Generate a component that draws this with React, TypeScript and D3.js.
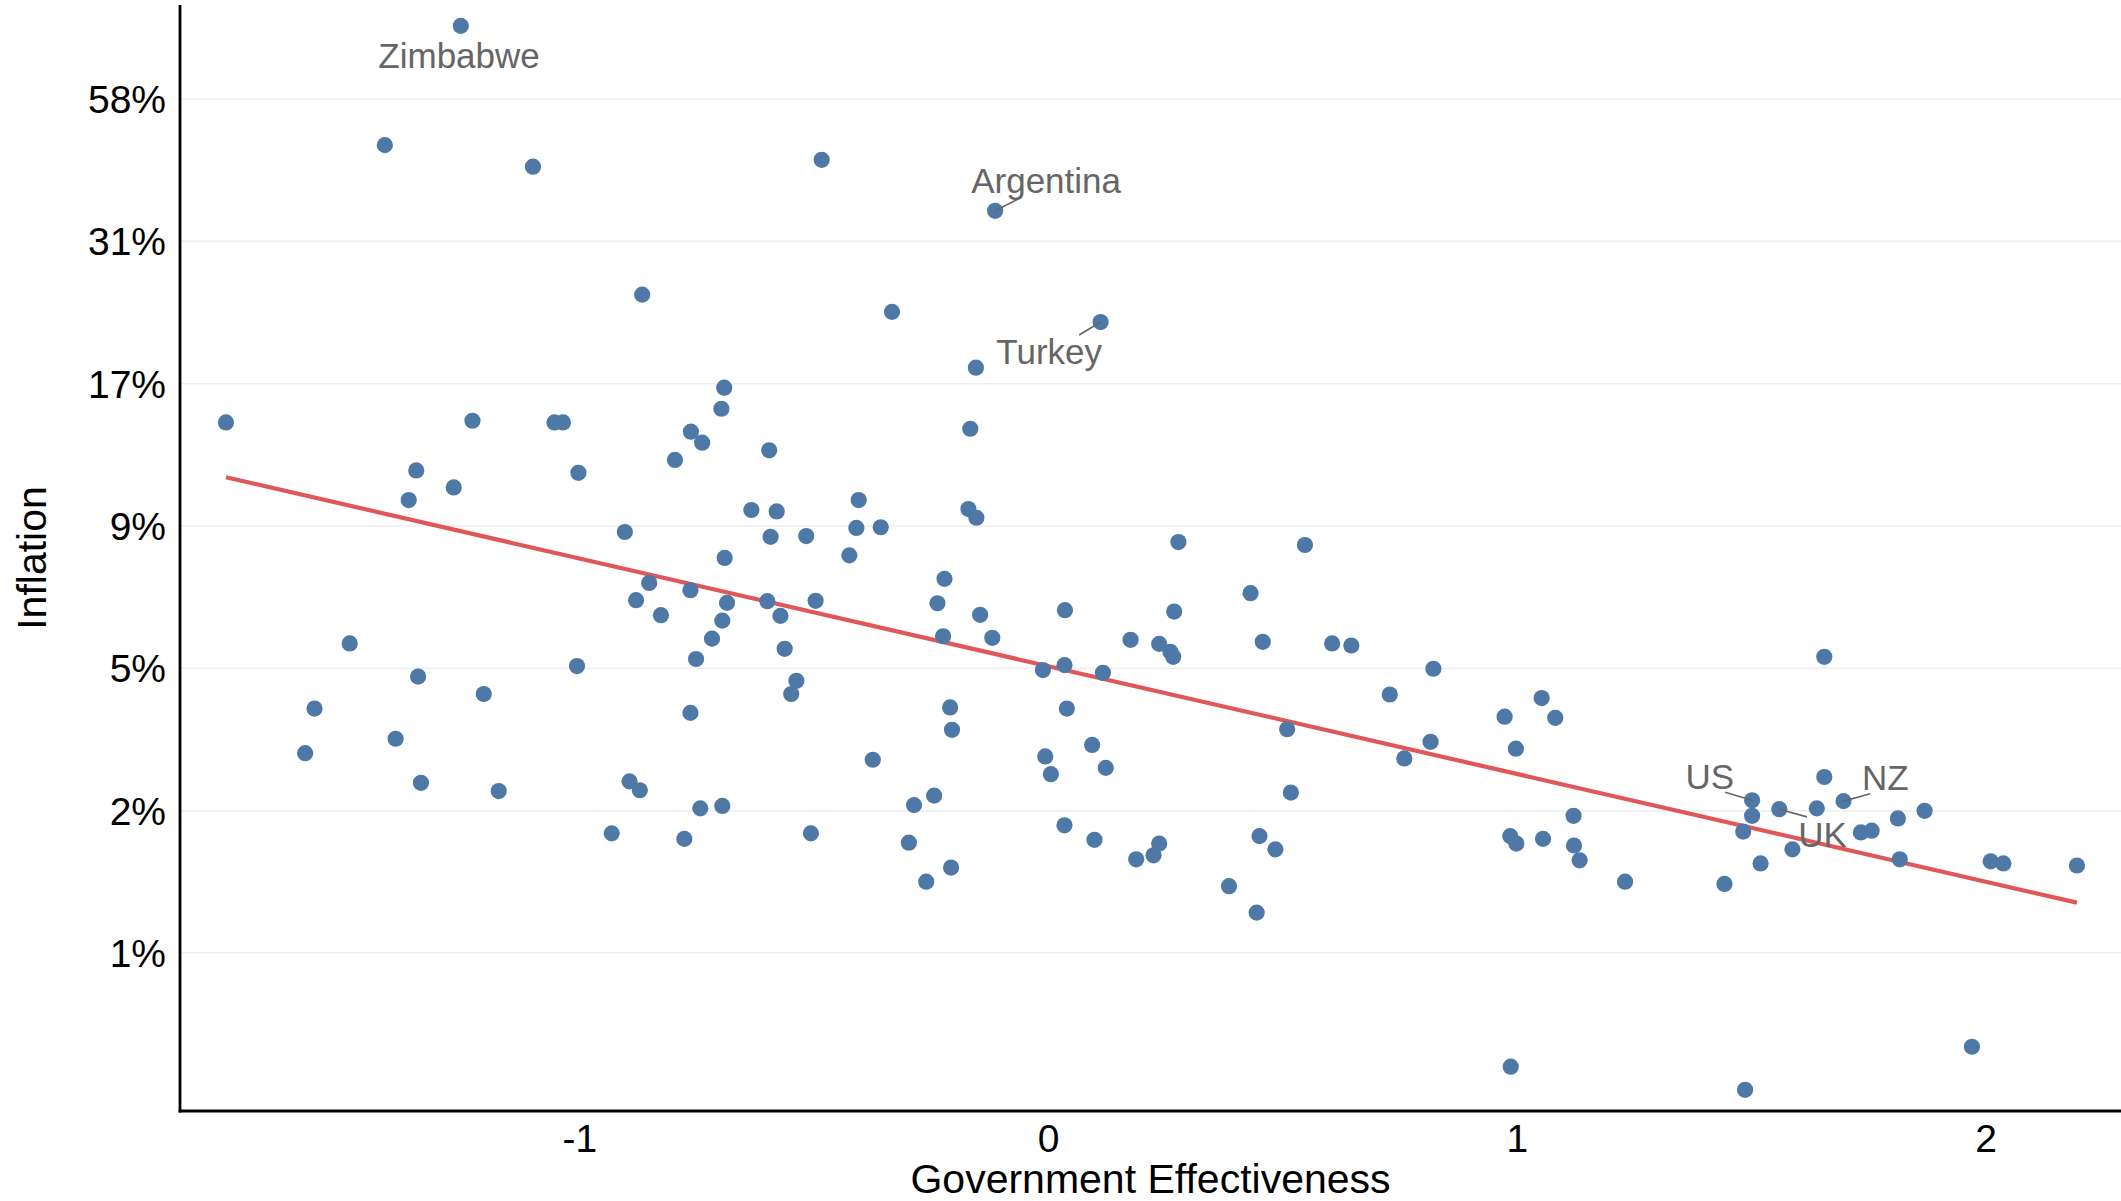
import React from "react";
import * as d3 from "d3";

// ---------- data ----------
const govEffectiveness = [
  -1.254, -1.416, -1.100, -0.484, -0.114, -0.867, -0.334, 0.111, -0.155, -0.692,
  -0.698, -1.755, -1.229, -1.054, -1.036, -0.763, -0.739, -0.596, -0.167, -0.797,
  -1.349, -1.003, -1.269, -1.365, -0.634, -0.580, -0.405, -0.171, -0.154, -0.904,
  -0.593, -0.517, -0.410, -0.358, 0.277, 0.547, -0.425, -0.691, -0.222, -0.852,
  0.431, -0.764, -0.880, -0.686, -0.600, -0.237, -0.497, 0.035, 0.268, -0.827,
  -0.572, -0.146, -0.696, -0.225, -0.120, -0.718, 0.175, 0.236, 0.260, 0.266,
  0.457, 0.605, 0.646, -1.491, -0.563, 1.655, -0.752, -1.006, -0.012, 0.034,
  0.116, 0.821, -1.345, -0.538, -0.549, -1.205, 0.728, 1.052, -1.566, -0.210,
  0.039, -0.764, 0.973, 1.081, -0.206, 0.509, -1.393, 0.815, 0.093, 0.997,
  -1.586, -0.375, -0.007, 0.759, 0.122, 0.005, 1.655, -0.894, -1.339, -0.872,
  -1.173, 0.517, -0.244, 1.501, 1.696, -0.287, -0.743, -0.696, 1.559, 1.639,
  1.869, 1.120, 1.501, 1.812, 0.034, -0.932, -0.507, 1.482, 1.733, 1.756,
  0.098, -0.777, -0.298, 0.450, 0.985, 1.055, 0.236, 0.998, 1.121, 0.484,
  1.587, 0.224, 0.187, 1.133, 1.816, 2.010, 2.037, 2.194, 1.519, -0.208,
  -0.261, 1.230, 1.442, 0.385, 0.444, 1.970, 0.986, 1.486,
];

const inflation = [
  79.8, 48.1, 43.9, 45.2, 36.4, 25.5, 23.7, 22.7, 18.7, 17.18,
  15.71, 14.82, 14.93, 14.82, 14.82, 14.25, 13.6, 13.17, 14.43, 12.64,
  12.09, 11.97, 11.25, 10.66, 10.22, 10.16, 10.66, 10.26, 9.89, 9.31,
  9.12, 9.15, 9.47, 9.5, 8.92, 8.81, 8.43, 8.34, 7.63, 7.5,
  7.18, 7.27, 6.97, 6.89, 6.94, 6.88, 6.95, 6.68, 6.64, 6.54,
  6.52, 6.55, 6.39, 5.98, 5.94, 5.92, 5.89, 5.79, 5.6, 5.48,
  5.84, 5.8, 5.75, 5.8, 5.67, 5.48, 5.43, 5.27, 5.18, 5.29,
  5.12, 5.21, 5.04, 4.95, 4.68, 4.68, 4.67, 4.6, 4.4, 4.42,
  4.4, 4.32, 4.25, 4.23, 4.02, 4.03, 3.87, 3.82, 3.77, 3.71,
  3.64, 3.54, 3.59, 3.56, 3.42, 3.33, 3.29, 3.23, 3.21, 3.11,
  3.1, 3.08, 3.04, 2.98, 2.97, 2.92, 2.88, 2.91, 2.87, 2.88,
  2.85, 2.79, 2.79, 2.76, 2.68, 2.59, 2.59, 2.61, 2.6, 2.62,
  2.52, 2.53, 2.49, 2.56, 2.56, 2.53, 2.48, 2.48, 2.46, 2.42,
  2.42, 2.36, 2.32, 2.31, 2.32, 2.3, 2.28, 2.26, 2.28, 2.24,
  2.11, 2.11, 2.09, 2.07, 1.85, 1.047, 0.962, 0.872,
];

const labelNames = ["Zimbabwe", "Argentina", "Turkey", "US", "NZ", "UK"];
const labelIndex = [0, 4, 7, 103, 104, 108];

const xTickValues = [-1, 0, 1, 2];
const xTickLabels = ["-1", "0", "1", "2"];
const yTickValues = [1.56, 2.85, 5.22, 9.55, 17.47, 31.97, 58.5];
const yTickLabels = ["1%", "2%", "5%", "9%", "17%", "31%", "58%"];

const xDomain = [-1.853, 2.288];
const yDomain = [0.797, 87.2];

// ---------- layout / style ----------
const W = 2121;
const H = 1201;
const plot = { left: 180, right: 2121, top: 5, bottom: 1111 };
const FONT = "'Liberation Sans', Arial, Helvetica, sans-serif";
const POINT = "#4E79A7";
const LINE = "#E15759";
const LABEL = "#666666";

// label text offsets (px) and segment end offsets (px) relative to the point
const labelLayout = [
  { dx: -1.7, dy: 41.7, seg: null },
  { dx: 51, dy: -17.4, seg: [23.6, -12] },
  { dx: -51.4, dy: 42.3, seg: [-21.4, 13] },
  { dx: -42.3, dy: -11.7, seg: [-27, -8] },
  { dx: 41.7, dy: -11, seg: [26.7, -7.3] },
  { dx: 43.3, dy: 37.7, seg: [27.7, 7.7] },
];

export default function App() {
  const x = d3.scaleLinear().domain(xDomain).range([plot.left, plot.right]);
  const y = d3.scaleLog().domain(yDomain).range([plot.bottom, plot.top]);

  const pts = govEffectiveness.map((g, i) => ({ g, v: inflation[i] }));

  // least squares fit of log(inflation) on government effectiveness
  const mx = d3.mean(pts, (d) => d.g) as number;
  const my = d3.mean(pts, (d) => Math.log(d.v)) as number;
  const sxy = d3.sum(pts, (d) => (d.g - mx) * (Math.log(d.v) - my));
  const sxx = d3.sum(pts, (d) => (d.g - mx) ** 2);
  const slope = sxy / sxx;
  const intercept = my - slope * mx;
  const [gMin, gMax] = d3.extent(pts, (d) => d.g) as [number, number];
  const fit = [gMin, gMax].map((g) => ({ g, v: Math.exp(intercept + slope * g) }));
  const linePath = d3
    .line<{ g: number; v: number }>()
    .x((d) => x(d.g))
    .y((d) => y(d.v))(fit) as string;

  return (
    <div style={{ position: "absolute", left: 0, top: 0 }}>
      <svg width={W} height={H} style={{ display: "block", background: "#fff" }} fontFamily={FONT}>
        {/* gridlines */}
        {yTickValues.map((t, i) => (
          <line
            key={"g" + i}
            x1={plot.left}
            x2={plot.right}
            y1={y(t)}
            y2={y(t)}
            stroke="#EFEFEF"
            strokeWidth={1.6}
          />
        ))}

        {/* regression line */}
        <path d={linePath} fill="none" stroke={LINE} strokeWidth={4.2} />

        {/* points */}
        {pts.map((d, i) => (
          <circle key={"p" + i} cx={x(d.g)} cy={y(d.v)} r={8.1} fill={POINT} />
        ))}

        {/* labels */}
        {labelNames.map((name, k) => {
          const d = pts[labelIndex[k]];
          const px = x(d.g);
          const py = y(d.v);
          const L = labelLayout[k];
          return (
            <g key={"l" + k}>
              {L.seg && (
                <line
                  x1={px}
                  y1={py}
                  x2={px + L.seg[0]}
                  y2={py + L.seg[1]}
                  stroke={LABEL}
                  strokeWidth={1.6}
                />
              )}
              <text x={px + L.dx} y={py + L.dy} textAnchor="middle" fontSize={35} fill={LABEL}>
                {name}
              </text>
            </g>
          );
        })}

        {/* axes lines */}
        <line x1={plot.left} x2={plot.left} y1={plot.top} y2={plot.bottom + 1.4} stroke="#000" strokeWidth={2.8} />
        <line x1={plot.left - 1.4} x2={plot.right} y1={plot.bottom} y2={plot.bottom} stroke="#000" strokeWidth={2.8} />

        {/* y tick labels */}
        {yTickValues.map((t, i) => (
          <text key={"yt" + i} x={166} y={y(t)} dy="0.36em" textAnchor="end" fontSize={39} fill="#000">
            {yTickLabels[i]}
          </text>
        ))}

        {/* x tick labels */}
        {xTickValues.map((t, i) => (
          <text key={"xt" + i} x={x(t)} y={1151.5} textAnchor="middle" fontSize={39} fill="#000">
            {xTickLabels[i]}
          </text>
        ))}

        {/* axis titles */}
        <text x={(plot.left + plot.right) / 2} y={1193} textAnchor="middle" fontSize={41} fill="#000">
          Government Effectiveness
        </text>
        <text
          transform={`translate(46, ${(plot.top + plot.bottom) / 2}) rotate(-90)`}
          textAnchor="middle"
          fontSize={41}
          fill="#000"
        >
          Inflation
        </text>
      </svg>
    </div>
  );
}
